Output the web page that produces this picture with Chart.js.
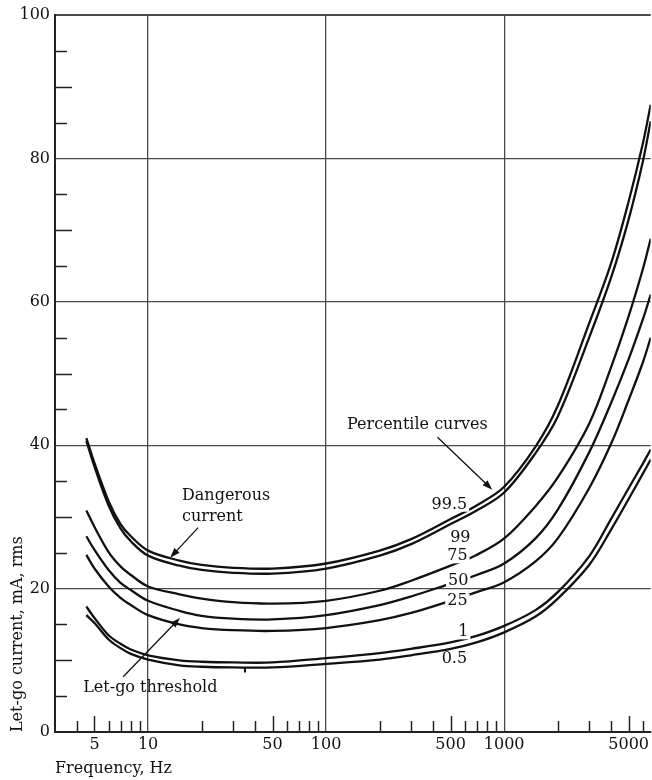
<!DOCTYPE html>
<html>
<head>
<meta charset="utf-8">
<title>Let-go current vs frequency</title>
<script src="https://cdn.jsdelivr.net/npm/chart.js@4.4.1/dist/chart.umd.min.js"></script>
<style>
  html, body { margin: 0; padding: 0; background: #fff; }
  canvas { display: block; }
</style>
</head>
<body>
<canvas id="letGoChart" width="652" height="780"></canvas>
<script>
// Frequency, Hz (shared by every curve)
const frequencies = [4.5, 5, 6, 7, 8, 10, 15, 20, 30, 50, 100, 200, 300, 500, 700, 1000, 1500, 2000, 3000, 4000, 5000, 6000, 6650];

// Let-go current, mA rms, one array per percentile curve
const p995 = [41.0, 37.5, 32.2, 29.0, 27.3, 25.3, 23.9, 23.3, 22.9, 22.8, 23.5, 25.3, 26.9, 29.7, 31.6, 34.2, 39.8, 45.5, 57.0, 65.5, 74.0, 82.0, 87.5];
const p99  = [40.6, 37.0, 31.6, 28.4, 26.6, 24.6, 23.2, 22.6, 22.2, 22.1, 22.8, 24.6, 26.2, 29.0, 30.9, 33.4, 38.9, 44.0, 55.0, 63.5, 71.5, 79.5, 85.2];
const p75  = [30.9, 28.6, 25.1, 23.1, 21.9, 20.3, 19.2, 18.6, 18.1, 17.9, 18.3, 19.7, 21.1, 23.2, 24.7, 27.0, 31.5, 35.5, 43.0, 51.0, 58.0, 64.5, 68.8];
const p50  = [27.3, 25.4, 22.6, 20.8, 19.8, 18.3, 16.9, 16.2, 15.8, 15.7, 16.3, 17.7, 18.9, 20.7, 21.9, 23.5, 27.0, 31.0, 39.0, 46.0, 52.0, 57.5, 61.0];
const p25  = [24.7, 22.8, 20.3, 18.7, 17.7, 16.3, 15.0, 14.5, 14.2, 14.1, 14.5, 15.6, 16.6, 18.3, 19.5, 20.9, 23.8, 27.0, 34.0, 40.3, 46.3, 51.5, 55.0];
const p1   = [17.5, 15.9, 13.5, 12.3, 11.5, 10.7, 10.0, 9.8, 9.7, 9.7, 10.3, 11.0, 11.6, 12.5, 13.4, 14.8, 17.0, 19.5, 24.5, 29.8, 34.0, 37.4, 39.4];
const p05  = [16.3, 15.2, 12.9, 11.7, 10.9, 10.1, 9.3, 9.1, 9.0, 9.0, 9.5, 10.1, 10.7, 11.6, 12.5, 13.9, 16.1, 18.6, 23.3, 28.3, 32.5, 36.0, 38.0];

const percentiles = ['99.5', '99', '75', '50', '25', '1', '0.5'];
const curves = [p995, p99, p75, p50, p25, p1, p05];

const xTickLabels = [5, 10, 50, 100, 500, 1000, 5000];
const xGridValues = [10, 100, 1000];
const yTickLabels = [0, 20, 40, 60, 80, 100];

// Text placed on the plot, in data coordinates (Hz, mA)
const curveLabels = [
    { text: '99.5', f: 492, v: 31.7 },
    { text: '99',   f: 567, v: 27.1 },
    { text: '75',   f: 546, v: 24.5 },
    { text: '50',   f: 552, v: 21.1 },
    { text: '25',   f: 546, v: 18.3 },
    { text: '1',    f: 589, v: 13.9 },
    { text: '0.5',  f: 525, v: 10.2 }
];
const notes = [
    { text: 'Percentile curves', f: 131, v: 42.8, align: 'left' },
    { text: 'Dangerous', f: 15.5, v: 32.9, align: 'left' },
    { text: 'current',   f: 15.5, v: 30.0, align: 'left' },
    { text: 'Let-go threshold', f: 4.32, v: 6.1, align: 'left' }
];
const arrows = [
    { f1: 422, v1: 41.1, f2: 857, v2: 33.8 },
    { f1: 19.1, v1: 28.5, f2: 13.3, v2: 24.3 },
    { f1: 7.25, v1: 7.7, f2: 15.1, v2: 15.9 }
];

const FONT = '"DejaVu Serif", serif';
const INK = '#111';

const annotate = {
    id: 'annotate',
    afterDatasetsDraw(chart) {
        const ctx = chart.ctx;
        const x = chart.scales.x;
        const y = chart.scales.y;
        const area = chart.chartArea;
        ctx.save();

        // inward tick marks on the x axis
        ctx.strokeStyle = '#222';
        ctx.lineWidth = 1.5;
        [1, 10, 100, 1000].forEach(function(decade) {
            for (let m = 2; m <= 9; m++) {
                const f = m * decade;
                if (f <= x.min || f >= x.max) continue;
                const px = Math.round(x.getPixelForValue(f)) + 0.5;
                const len = m === 5 ? 16 : 11;
                ctx.beginPath();
                ctx.moveTo(px, area.bottom);
                ctx.lineTo(px, area.bottom - len);
                ctx.stroke();
            }
        });
        // inward tick marks on the y axis
        for (let v = 5; v < 100; v += 5) {
            if (v % 20 === 0) continue;
            const py = Math.round(y.getPixelForValue(v)) + 0.5;
            const len = v % 10 === 0 ? 17 : 12;
            ctx.beginPath();
            ctx.moveTo(area.left, py);
            ctx.lineTo(area.left + len, py);
            ctx.stroke();
        }

        ctx.font = '16px ' + FONT;
        ctx.fillStyle = INK;
        ctx.textBaseline = 'middle';

        // curve labels sit in a gap of the line
        curveLabels.forEach(function(l) {
            const px = x.getPixelForValue(l.f);
            const py = y.getPixelForValue(l.v);
            const w = ctx.measureText(l.text).width;
            ctx.fillStyle = '#fff';
            ctx.fillRect(px - w / 2 - 2, py - 7, w + 4, 14);
            ctx.fillStyle = INK;
            ctx.textAlign = 'center';
            ctx.fillText(l.text, px, py);
        });

        notes.forEach(function(n) {
            ctx.textAlign = n.align;
            ctx.fillText(n.text, x.getPixelForValue(n.f), y.getPixelForValue(n.v));
        });

        // arrows
        ctx.strokeStyle = INK;
        ctx.lineWidth = 1.3;
        arrows.forEach(function(a) {
            const x1 = x.getPixelForValue(a.f1), y1 = y.getPixelForValue(a.v1);
            const x2 = x.getPixelForValue(a.f2), y2 = y.getPixelForValue(a.v2);
            const ang = Math.atan2(y2 - y1, x2 - x1);
            ctx.beginPath();
            ctx.moveTo(x1, y1);
            ctx.lineTo(x2 - 6 * Math.cos(ang), y2 - 6 * Math.sin(ang));
            ctx.stroke();
            ctx.beginPath();
            ctx.moveTo(x2, y2);
            ctx.lineTo(x2 - 10 * Math.cos(ang) + 3.5 * Math.sin(ang), y2 - 10 * Math.sin(ang) - 3.5 * Math.cos(ang));
            ctx.lineTo(x2 - 10 * Math.cos(ang) - 3.5 * Math.sin(ang), y2 - 10 * Math.sin(ang) + 3.5 * Math.cos(ang));
            ctx.closePath();
            ctx.fill();
        });

        // small mark under the lowest curve
        ctx.lineWidth = 2;
        const mx = x.getPixelForValue(35);
        ctx.beginPath();
        ctx.moveTo(mx, y.getPixelForValue(9.0));
        ctx.lineTo(mx, y.getPixelForValue(8.3));
        ctx.stroke();

        ctx.restore();
    }
};

Chart.defaults.font.family = FONT;
Chart.defaults.font.size = 16;
Chart.defaults.color = INK;

new Chart(document.getElementById('letGoChart').getContext('2d'), {
    type: 'line',
    data: {
        datasets: percentiles.map(function(p, i) {
            return {
                label: p,
                data: frequencies.map(function(f, j) { return { x: f, y: curves[i][j] }; }),
                borderColor: INK,
                borderWidth: 2.3,
                pointRadius: 0,
                fill: false,
                tension: 0.35
            };
        })
    },
    options: {
        responsive: false,
        animation: false,
        events: [],
        layout: { padding: { top: 15, right: 0, bottom: 0, left: 0 } },
        plugins: {
            legend: { display: false },
            tooltip: { enabled: false },
            title: { display: false }
        },
        scales: {
            x: {
                type: 'logarithmic',
                min: 3,
                max: 6650,
                afterBuildTicks: function(scale) {
                    scale.ticks = xTickLabels.map(function(v) { return { value: v }; });
                },
                afterFit: function(scale) { scale.height = 48; },
                ticks: {
                    autoSkip: false,
                    maxRotation: 0,
                    padding: 3,
                    callback: function(value) { return String(value); }
                },
                grid: {
                    drawTicks: false,
                    color: function(c) {
                        return c.tick && xGridValues.includes(c.tick.value) ? '#4a4a4a' : 'rgba(0,0,0,0)';
                    },
                    lineWidth: 1.3
                },
                border: { display: true, color: '#222', width: 2 },
                title: {
                    display: true,
                    text: 'Frequency, Hz',
                    align: 'start',
                    padding: { top: 0, bottom: 2 }
                }
            },
            y: {
                type: 'linear',
                min: 0,
                max: 100,
                afterBuildTicks: function(scale) {
                    scale.ticks = yTickLabels.map(function(v) { return { value: v }; });
                },
                afterFit: function(scale) { scale.width = 55; },
                ticks: { padding: 5 },
                grid: {
                    drawTicks: false,
                    color: '#4a4a4a',
                    lineWidth: function(c) { return c.tick && c.tick.value === 100 ? 2 : 1.3; }
                },
                border: { display: true, color: '#222', width: 2 },
                title: {
                    display: true,
                    text: 'Let-go current, mA, rms',
                    align: 'start',
                    padding: { top: 8, bottom: 0 }
                }
            }
        }
    },
    plugins: [annotate]
});
</script>
</body>
</html>
